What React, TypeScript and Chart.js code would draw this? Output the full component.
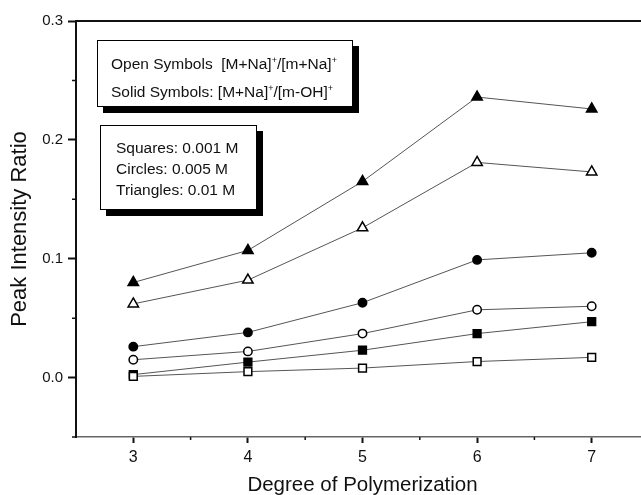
import React, { useEffect, useRef } from 'react';
import { Chart, registerables } from 'chart.js';

Chart.register(...registerables);

const degrees = [3, 4, 5, 6, 7];
const solidTriangles = [0.080, 0.107, 0.165, 0.236, 0.226];
const openTriangles = [0.062, 0.082, 0.126, 0.181, 0.173];
const solidCircles = [0.026, 0.038, 0.063, 0.099, 0.105];
const openCircles = [0.015, 0.022, 0.037, 0.057, 0.060];
const solidSquares = [0.0025, 0.013, 0.023, 0.037, 0.047];
const openSquares = [0.001, 0.005, 0.008, 0.0135, 0.017];

const xMajorTicks = [3, 4, 5, 6, 7];
const xMinorTicks = [3.5, 4.5, 5.5, 6.5];
const yMajorTicks = [0, 0.1, 0.2, 0.3];
const yMinorTicks = [-0.05, 0.05, 0.15, 0.25];

const xTitle = 'Degree of Polymerization';
const yTitle = 'Peak Intensity Ratio';

const FONT = '"Liberation Sans", Arial, Helvetica, sans-serif';

const toPoints = (vals: number[]) => vals.map((v, i) => ({ x: degrees[i], y: v }));

const makeSet = (label: string, vals: number[], style: string, filled: boolean, radius: number) => ({
  label,
  data: toPoints(vals),
  borderColor: '#555',
  borderWidth: 1,
  pointStyle: style,
  pointRadius: radius,
  pointHoverRadius: radius,
  pointBackgroundColor: filled ? '#000' : '#fff',
  pointBorderColor: '#000',
  pointBorderWidth: 1.5,
  fill: false,
  tension: 0,
});

const framePlugin = {
  id: 'framePlugin',
  afterDraw(chart: any) {
    const { ctx, chartArea: a, scales } = chart;
    ctx.save();
    ctx.strokeStyle = '#111';
    ctx.lineWidth = 2;
    ctx.beginPath();
    ctx.moveTo(a.left - 1, a.top);
    ctx.lineTo(a.right, a.top);
    ctx.stroke();

    ctx.lineWidth = 1.5;
    ctx.beginPath();
    xMinorTicks.forEach((v) => {
      const px = scales.x.getPixelForValue(v);
      ctx.moveTo(px, a.bottom);
      ctx.lineTo(px, a.bottom + 3);
    });
    yMinorTicks.forEach((v) => {
      const py = scales.y.getPixelForValue(v);
      ctx.moveTo(a.left, py);
      ctx.lineTo(a.left - 4, py);
    });
    ctx.stroke();

    ctx.fillStyle = '#111';
    ctx.textAlign = 'center';
    ctx.textBaseline = 'middle';
    ctx.font = `20.5px ${FONT}`;
    ctx.fillText(xTitle, (a.left + a.right) / 2, 485);

    ctx.translate(20, (a.top + a.bottom) / 2);
    ctx.rotate(-Math.PI / 2);
    ctx.font = `22px ${FONT}`;
    ctx.fillText(yTitle, 0, 0);
    ctx.restore();
  },
};

function App() {
  const ref = useRef<HTMLCanvasElement | null>(null);

  useEffect(() => {
    if (!ref.current) return;
    const chart = new Chart(ref.current, {
      type: 'line',
      data: {
        datasets: [
          makeSet('Open squares', openSquares, 'rect', false, 5.5),
          makeSet('Solid squares', solidSquares, 'rect', true, 5.5),
          makeSet('Open circles', openCircles, 'circle', false, 4.2),
          makeSet('Solid circles', solidCircles, 'circle', true, 4.2),
          makeSet('Open triangles', openTriangles, 'triangle', false, 6),
          makeSet('Solid triangles', solidTriangles, 'triangle', true, 6),
        ] as any,
      },
      options: {
        animation: false,
        responsive: false,
        maintainAspectRatio: false,
        layout: { padding: { top: 21, right: 11, left: 0, bottom: 0 } },
        plugins: {
          legend: { display: false },
          tooltip: { enabled: false },
          title: { display: false },
        },
        scales: {
          x: {
            type: 'linear',
            min: 2.5,
            max: 7.5,
            afterBuildTicks: (s: any) => {
              s.ticks = xMajorTicks.map((v) => ({ value: v }));
            },
            afterFit: (s: any) => {
              s.height = 58;
            },
            border: { display: true, color: '#666', width: 1.5 },
            grid: {
              display: true,
              drawOnChartArea: false,
              drawTicks: true,
              tickLength: 6,
              tickWidth: 2,
              tickColor: '#111',
              color: '#111',
            },
            ticks: {
              padding: 5,
              color: '#111',
              font: { family: FONT, size: 16 },
              maxRotation: 0,
              callback: (v: any) => String(v),
            },
          },
          y: {
            type: 'linear',
            min: -0.05,
            max: 0.3,
            afterBuildTicks: (s: any) => {
              s.ticks = yMajorTicks.map((v) => ({ value: v }));
            },
            afterFit: (s: any) => {
              s.width = 76;
            },
            border: { display: true, color: '#111', width: 2 },
            grid: {
              display: true,
              drawOnChartArea: false,
              drawTicks: true,
              tickLength: 8,
              tickWidth: 2,
              tickColor: '#111',
              color: '#111',
            },
            ticks: {
              padding: 5,
              color: '#111',
              font: { family: FONT, size: 15 },
              callback: (v: any) => Number(v).toFixed(1),
            },
          },
        },
      } as any,
      plugins: [framePlugin],
    });
    return () => chart.destroy();
  }, []);

  const boxBase: React.CSSProperties = {
    position: 'absolute',
    boxSizing: 'border-box',
    background: '#fff',
    border: '1.5px solid #000',
    boxShadow: '6px 6px 0 0 #000',
    fontFamily: FONT,
    fontSize: 15.5,
    color: '#111',
    whiteSpace: 'nowrap',
  };
  const sup: React.CSSProperties = { fontSize: 9, verticalAlign: 'super', lineHeight: 0 };

  return (
    <div
      style={{
        position: 'fixed',
        left: 0,
        top: 0,
        width: 641,
        height: 495,
        overflow: 'hidden',
        background: '#fff',
      }}
    >
      <canvas ref={ref} width={660} height={495} style={{ width: 660, height: 495, display: 'block' }} />
      <div style={{ ...boxBase, left: 97, top: 40, width: 256, height: 67, padding: '9px 0 0 13px', lineHeight: '28px' }}>
        <div>
          Open Symbols&nbsp; [M+Na]<span style={sup}>+</span>/[m+Na]<span style={sup}>+</span>
        </div>
        <div>
          Solid Symbols: [M+Na]<span style={sup}>+</span>/[m-OH]<span style={sup}>+</span>
        </div>
      </div>
      <div style={{ ...boxBase, left: 100, top: 125, width: 157, height: 85, padding: '11px 0 0 15px', lineHeight: '21px' }}>
        <div>Squares: 0.001 M</div>
        <div>Circles: 0.005 M</div>
        <div>Triangles: 0.01 M</div>
      </div>
    </div>
  );
}

export default App;
